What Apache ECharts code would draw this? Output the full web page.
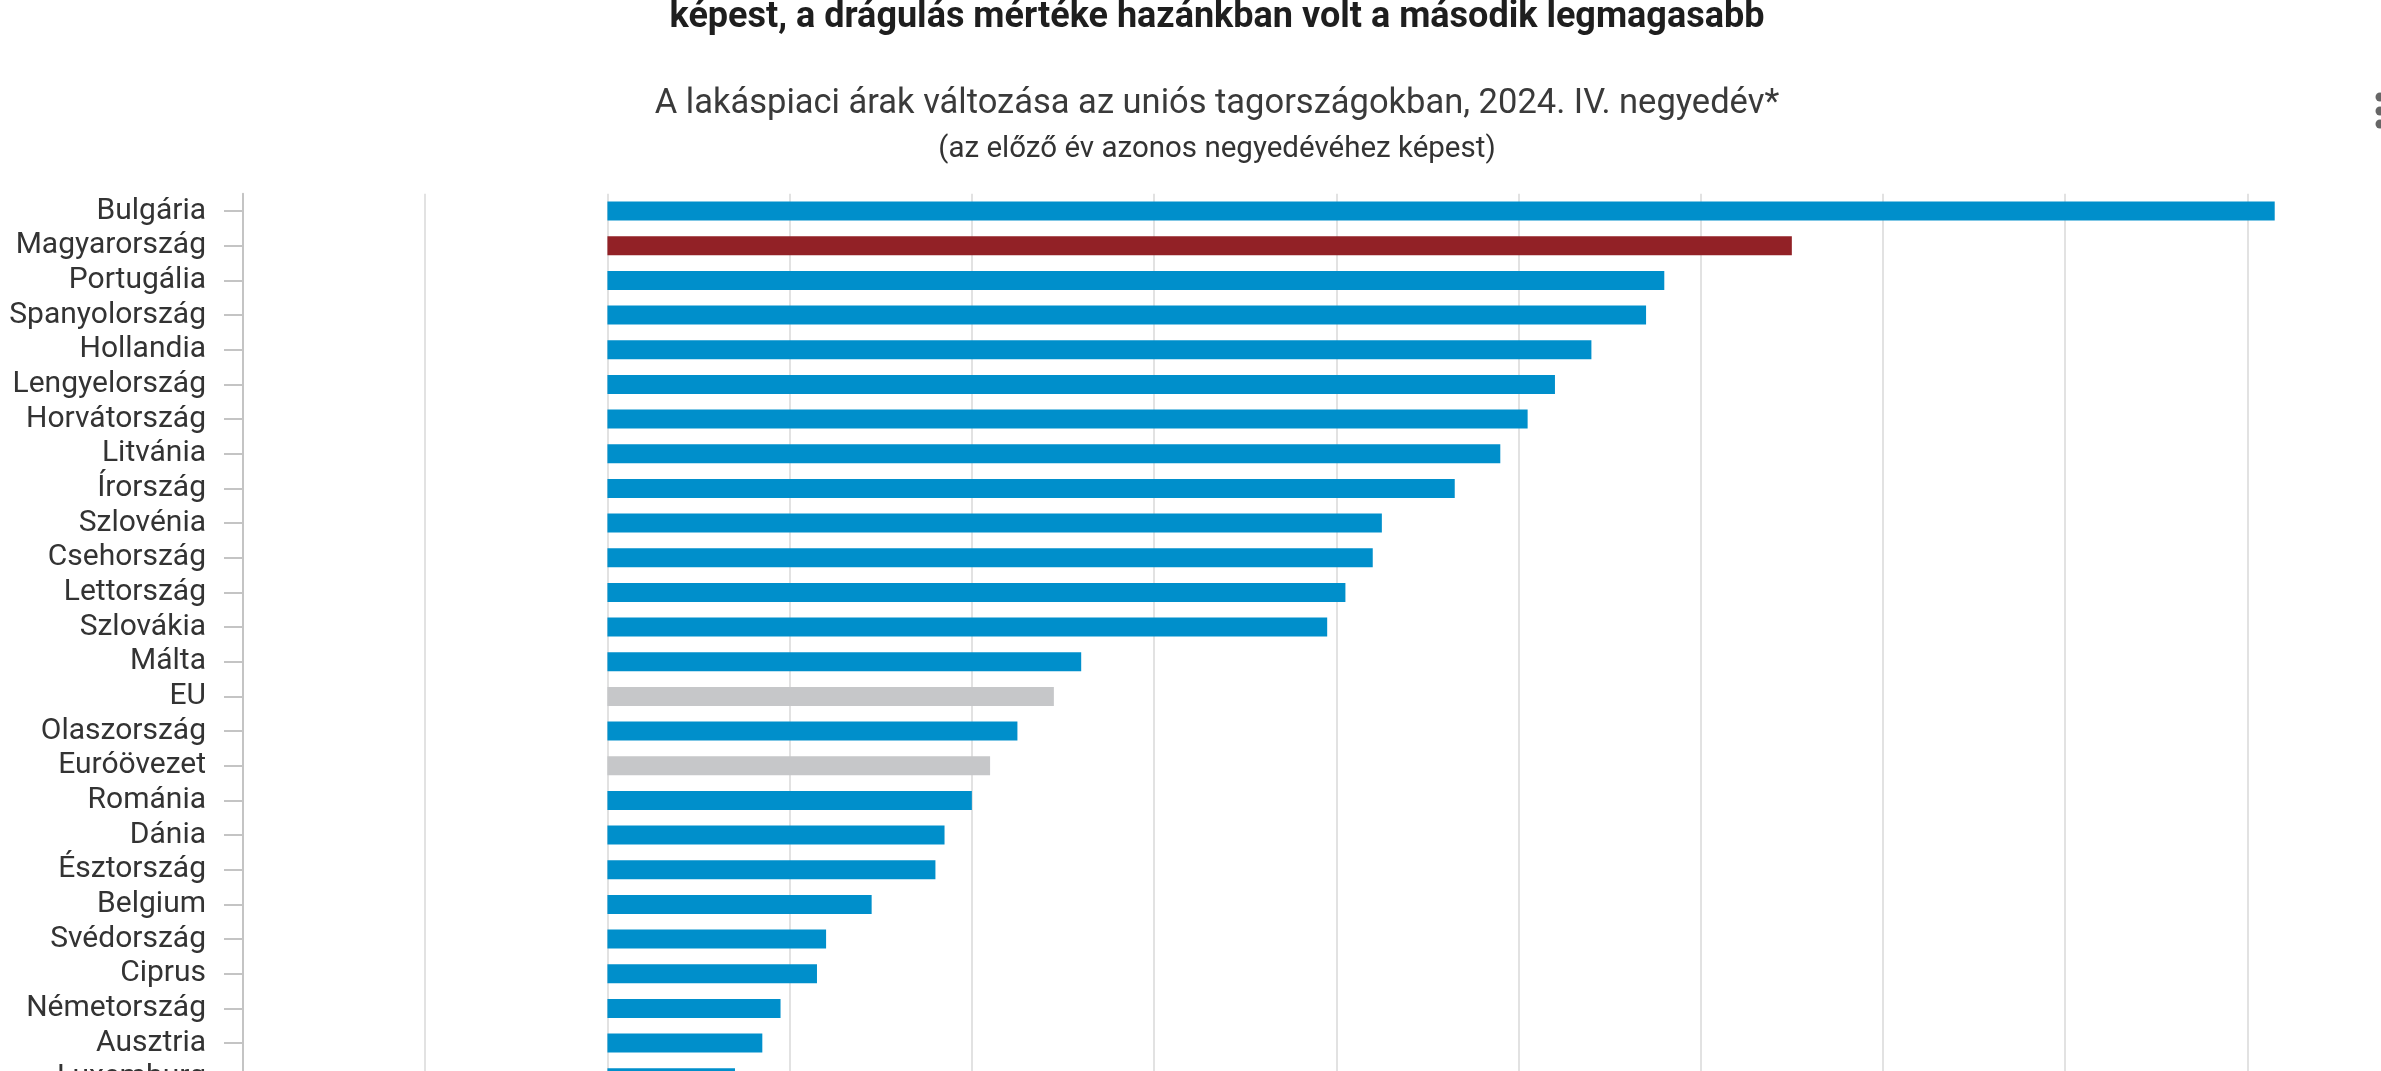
<!DOCTYPE html>
<html>
<head>
<meta charset="utf-8">
<script src="https://cdn.jsdelivr.net/npm/echarts@6/dist/echarts.min.js"></script>
<style>
  html, body { margin: 0; padding: 0; background: #fff; overflow: hidden; }
  /* the plot runs past the bottom and right edges of the window, as in the screenshot */
  #chart { width: 2500px; height: 1200px; }
</style>
</head>
<body>
<div id="chart"></div>
<script>
// annual change of house prices, Q4 2024 (%), top of the list as seen
const countries = ['Bulgária', 'Magyarország', 'Portugália', 'Spanyolország', 'Hollandia',
  'Lengyelország', 'Horvátország', 'Litvánia', 'Írország', 'Szlovénia', 'Csehország',
  'Lettország', 'Szlovákia', 'Málta', 'EU', 'Olaszország', 'Euróövezet', 'Románia',
  'Dánia', 'Észtország', 'Belgium', 'Svédország', 'Ciprus', 'Németország', 'Ausztria',
  'Luxemburg'];
const values = [18.3, 13.0, 11.6, 11.4, 10.8, 10.4, 10.1, 9.8, 9.3, 8.5, 8.4, 8.1, 7.9,
  5.2, 4.9, 4.5, 4.2, 4.0, 3.7, 3.6, 2.9, 2.4, 2.3, 1.9, 1.7, 1.4];
const highlighted = ['Magyarország'];
const aggregates = ['EU', 'Euróövezet'];

const titleLine = 'képest, a drágulás mértéke hazánkban volt a második legmagasabb';
const subLine1 = 'A lakáspiaci árak változása az uniós tagországokban, 2024. IV. negyedév*';
const subLine2 = '(az előző év azonos negyedévéhez képest)';

const chart = echarts.init(document.getElementById('chart'));

function barColor(name) {
  if (highlighted.includes(name)) return '#922126';
  if (aggregates.includes(name)) return '#c6c7c9';
  return '#008fcb';
}

const barData = values.map((v, i) => ({
  value: v,
  itemStyle: { color: barColor(countries[i]) }
}));

const rowH = 34.67;
const centerX = 1217;

const option = {
  animation: false,
  backgroundColor: '#ffffff',
  graphic: [
    {
      type: 'text', x: centerX, y: 18,
      style: {
        text: titleLine, fill: '#1e1e1e', textAlign: 'center', textVerticalAlign: 'middle',
        font: 'bold 36px Roboto, sans-serif'
      }
    },
    {
      type: 'text', x: centerX, y: 104,
      style: {
        text: subLine1, fill: '#3a3a3a', textAlign: 'center', textVerticalAlign: 'middle',
        font: '34.5px Roboto, sans-serif'
      }
    },
    {
      type: 'text', x: centerX, y: 150,
      style: {
        text: subLine2, fill: '#333333', textAlign: 'center', textVerticalAlign: 'middle',
        font: '29.5px Roboto, sans-serif'
      }
    },
    // context menu dots, right edge
    { type: 'circle', shape: { cx: 2380, cy: 97, r: 4.5 }, style: { fill: '#666' } },
    { type: 'circle', shape: { cx: 2380, cy: 111, r: 4.5 }, style: { fill: '#666' } },
    { type: 'circle', shape: { cx: 2380, cy: 124, r: 4.5 }, style: { fill: '#666' } }
  ],
  grid: {
    left: 243,
    top: 193.7,
    width: 2186.6,
    height: rowH * countries.length,
    containLabel: false
  },
  xAxis: {
    type: 'value',
    min: -4,
    max: 20,
    interval: 2,
    axisLine: { show: false },
    axisTick: { show: false },
    axisLabel: { show: false },
    splitLine: { show: true, lineStyle: { color: '#e2e2e2', width: 2 } }
  },
  yAxis: {
    type: 'category',
    data: countries,
    inverse: true,
    axisLine: { show: true, onZero: false, lineStyle: { color: '#c4c4c4', width: 2 } },
    axisTick: { show: true, alignWithLabel: true, length: 19, lineStyle: { color: '#c4c4c4', width: 2 } },
    axisLabel: {
      interval: 0,
      margin: 37,
      fontSize: 30,
      fontFamily: 'Roboto, sans-serif',
      color: '#333333'
    }
  },
  series: [
    {
      type: 'bar',
      data: barData,
      barWidth: 19,
      silent: true
    }
  ]
};

chart.setOption(option);
</script>
</body>
</html>
